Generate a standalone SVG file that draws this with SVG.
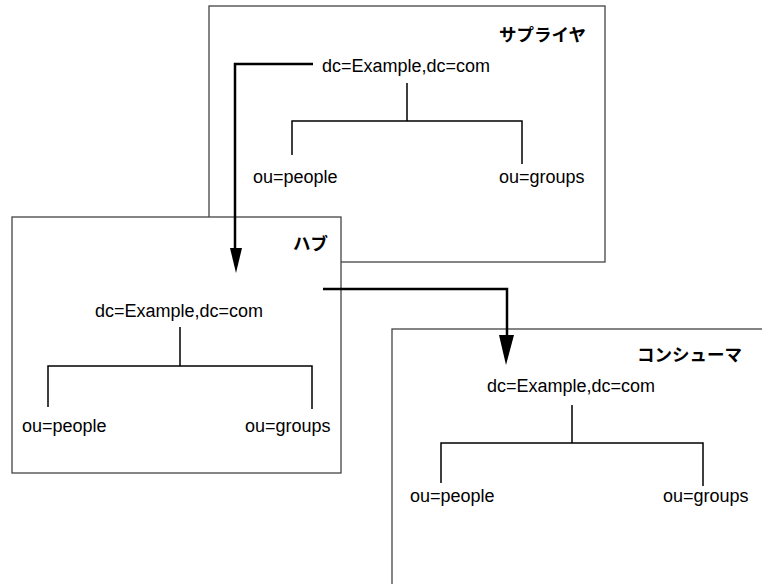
<svg xmlns="http://www.w3.org/2000/svg" width="762" height="584" viewBox="0 0 762 584">
<defs>
<style>
.box{fill:#fff;stroke:#444;stroke-width:1.3}
.tree{fill:none;stroke:#000;stroke-width:1.5}
.lbl{font-family:"Liberation Sans",Arial,sans-serif;font-size:18px;fill:#000}
.ttl{font-family:"Noto Sans CJK JP","Liberation Sans",sans-serif;font-size:17.5px;font-weight:bold;fill:#000}
.arr{fill:none;stroke:#000;stroke-width:2.5}
</style>
</defs>
<rect width="762" height="584" fill="#fff"/>
<g id="supplier">
<rect class="box" x="209" y="6" width="396" height="256"/>
<text class="ttl" x="586" y="41" text-anchor="end">サプライヤ</text>
<text class="lbl" x="322" y="72">dc=Example,dc=com</text>
<path class="tree" d="M407,83V121M292,155V121H522V164"/>
<text class="lbl" x="253" y="183">ou=people</text>
<text class="lbl" x="499" y="183">ou=groups</text>
</g>
<g id="hub">
<rect class="box" x="12" y="217" width="329" height="256"/>
<text class="ttl" x="328" y="250" text-anchor="end">ハブ</text>
<text class="lbl" x="95" y="317">dc=Example,dc=com</text>
<path class="tree" d="M180,327V366M48,407V366H312V409"/>
<text class="lbl" x="22" y="432">ou=people</text>
<text class="lbl" x="245" y="432">ou=groups</text>
</g>
<g id="consumer">
<rect class="box" x="392" y="329" width="380" height="270"/>
<text class="ttl" x="742" y="361" text-anchor="end">コンシューマ</text>
<text class="lbl" x="487" y="392">dc=Example,dc=com</text>
<path class="tree" d="M572,405V443M441,483V443H703V486"/>
<text class="lbl" x="410" y="502">ou=people</text>
<text class="lbl" x="663" y="502">ou=groups</text>
</g>
<g id="connectors">
<path class="arr" d="M313,64H235V250"/>
<polygon points="230,248 242,248 236,273" fill="#000"/>
<path class="arr" d="M323,289H507V338"/>
<polygon points="499,335 514,335 506,365" fill="#000"/>
</g>
</svg>
